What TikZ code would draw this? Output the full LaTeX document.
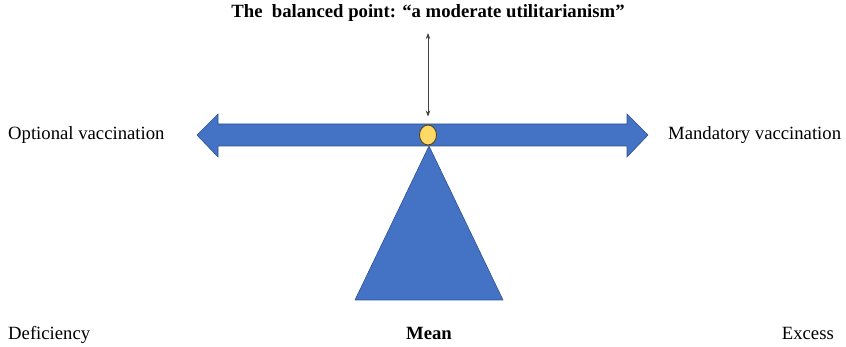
\documentclass[tikz,border=0pt]{standalone}
\usepackage{fontspec}
\setmainfont{Liberation Serif}
\usepackage{xcolor}
\definecolor{balBlue}{RGB}{68, 114, 196}
\definecolor{balEdge}{RGB}{47, 82, 143}
\definecolor{balYellow}{RGB}{255, 217, 102}
\definecolor{balRim}{RGB}{90, 70, 20}
\definecolor{balDark}{RGB}{64, 64, 64}
\usepackage{tikz}
\usetikzlibrary{
    shapes.geometric,
    arrows.meta,
    positioning
}

\begin{document}
\begin{tikzpicture}[
    x=1pt, y=-1pt,
    balShape/.style={
        fill=balBlue, draw=balEdge, line width=0.6pt, line join=miter
    },
    balPivot/.style={
        ellipse, fill=balYellow, draw=balRim, line width=0.9pt,
        inner sep=0pt, minimum width=17pt, minimum height=20pt
    },
    balLabel/.style={
        font=\fontsize{18.7}{22}\selectfont, text=black, inner sep=0pt
    },
    balTitle/.style={
        font=\fontsize{18.7}{22}\selectfont\bfseries, text=black
    },
    balArrow/.style={
        {Stealth[length=6pt, width=4.5pt]}-{Stealth[length=6pt, width=4.5pt]},
        line width=0.8pt, draw=balDark, shorten <=8pt, shorten >=8pt
    }
]
    \useasboundingbox (0,0) rectangle (846,347);

    % Beam (double arrow)
    \draw[balShape] (197,135) -- (218,114) -- (218,124) -- (627,124)
        -- (627,114) -- (648,135) -- (627,157) -- (627,146)
        -- (218,146) -- (218,157) -- cycle;

    % Fulcrum
    \draw[balShape] (429,146) -- (503,300) -- (355,300) -- cycle;

    % Balance point
    \node[balPivot] (pivot) at (428,135) {};

    % Title and pointer
    \node[balTitle] (title) at (428,13) {The~ balanced point: “a moderate utilitarianism”};
    \draw[balArrow] (title.south) -- (pivot.north);

    % Ends of the beam
    \node[balLabel, anchor=west] (optional) at (8,135) {Optional vaccination};
    \node[balLabel, anchor=west] (mandatory) at (668,135) {Mandatory vaccination};

    % Bottom labels
    \node[balLabel, anchor=base west] (deficiency) at (8,339) {Deficiency};
    \node[balLabel, anchor=base, font=\fontsize{18.7}{22}\selectfont\bfseries] (mean) at (429,339) {Mean};
    \node[balLabel, anchor=base east] (excess) at (834,339) {Excess};

\end{tikzpicture}
\end{document}
